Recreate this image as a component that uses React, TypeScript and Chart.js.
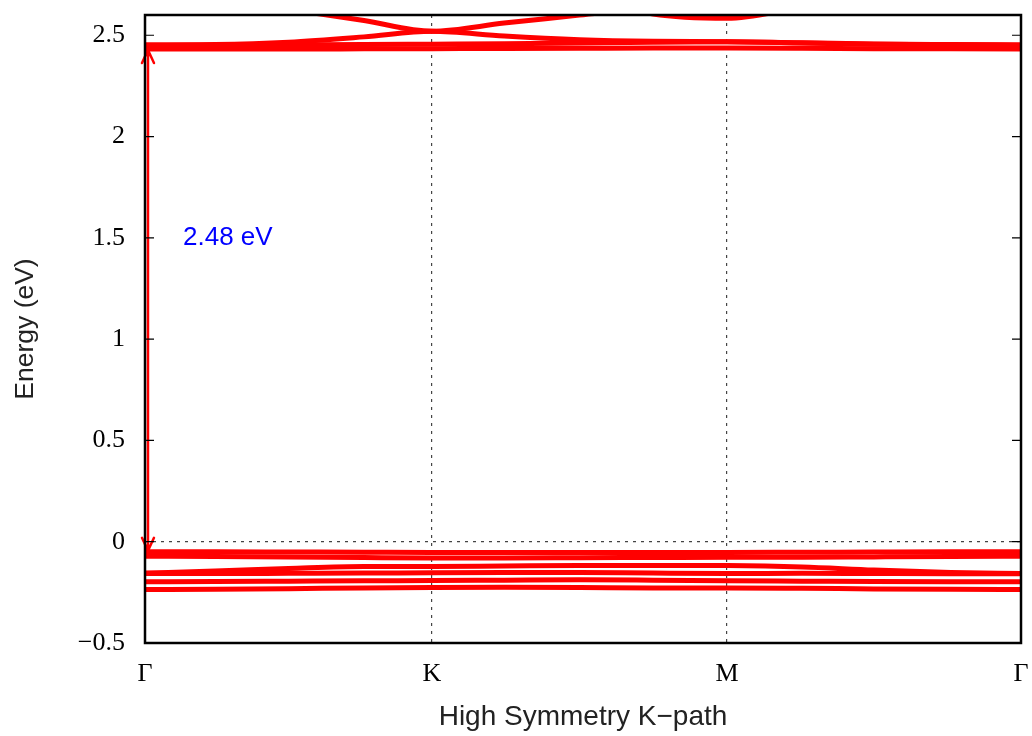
import { useEffect, useRef } from "react";
import { Chart, registerables } from "chart.js";

Chart.register(...registerables);

// High-symmetry points along the path (fractional path length)
const K_POS = 0.3276;
const M_POS = 0.6644;
const symPositions = [0, K_POS, M_POS, 1];
const symLabels = ["Γ", "K", "M", "Γ"];
const energyTicks = [-0.5, 0, 0.5, 1, 1.5, 2, 2.5];

// k sampling shared by every band
const kPath = [0, 0.08, 0.164, 0.25, K_POS, 0.41, 0.496, 0.58, M_POS, 0.75, 0.832, 0.92, 1.0];

// Valence bands (eV)
const valence1 = [-0.050, -0.050, -0.051, -0.052, -0.053, -0.053, -0.053, -0.053, -0.053, -0.052, -0.051, -0.050, -0.050];
const valence2 = [-0.072, -0.073, -0.075, -0.078, -0.080, -0.080, -0.079, -0.078, -0.077, -0.077, -0.075, -0.073, -0.072];
const valence3 = [-0.155, -0.145, -0.132, -0.122, -0.122, -0.120, -0.118, -0.117, -0.118, -0.125, -0.140, -0.152, -0.157];
const valence4 = [-0.157, -0.157, -0.156, -0.155, -0.153, -0.152, -0.152, -0.155, -0.157, -0.156, -0.157, -0.158, -0.158];
const valence5 = [-0.198, -0.197, -0.195, -0.193, -0.192, -0.190, -0.188, -0.190, -0.193, -0.195, -0.197, -0.198, -0.198];
const valence6 = [-0.236, -0.235, -0.232, -0.228, -0.226, -0.225, -0.226, -0.228, -0.228, -0.230, -0.233, -0.235, -0.236];

// Conduction bands (eV); null where the band lies far above the window
const conduction1 = [2.432, 2.432, 2.432, 2.433, 2.434, 2.435, 2.436, 2.437, 2.437, 2.436, 2.434, 2.433, 2.432];
const conduction2 = [2.452, 2.452, 2.453, 2.454, 2.456, 2.458, 2.462, 2.466, 2.468, 2.463, 2.457, 2.454, 2.452];
const conduction3 = [2.452, 2.454, 2.466, 2.492, 2.520, 2.496, 2.478, 2.470, 2.468, 2.462, 2.456, 2.453, 2.452];
const conduction4 = [null, null, 2.628, 2.573, 2.520, 2.560, 2.600, 2.640, 2.690, null, null, null, null];
const conduction5 = [null, null, null, null, null, null, 2.700, 2.605, 2.584, 2.640, 2.720, null, null];

const valenceBands = [valence1, valence2, valence3, valence4, valence5, valence6];
const conductionBands = [conduction1, conduction2, conduction3, conduction4, conduction5];

const vbm = Math.max(...valenceBands.flat());
const cbm = Math.min(...(conductionBands.flat().filter((v) => v !== null) as number[]));
const gapLabel = `${(cbm - vbm).toFixed(2)} eV`;
const ARROW_K = 0.0034;
const LABEL_K = 0.0434;
const LABEL_E = 1.5;

const BAND_COLOR = "#ff0000";

function toPoints(values: (number | null)[]) {
  return kPath.map((k, i) => ({ x: k, y: values[i] }));
}

// Vertical double-headed arrow across the gap plus its label
const gapPlugin = {
  id: "gapArrow",
  afterDatasetsDraw(chart: any) {
    const { ctx, scales } = chart;
    const x = scales.x.getPixelForValue(ARROW_K);
    const yTop = scales.y.getPixelForValue(cbm);
    const yBot = scales.y.getPixelForValue(vbm);
    ctx.save();
    ctx.strokeStyle = BAND_COLOR;
    ctx.lineWidth = 2.5;
    ctx.lineCap = "round";
    ctx.beginPath();
    ctx.moveTo(x, yTop + 1);
    ctx.lineTo(x, yBot - 1);
    // heads
    ctx.moveTo(x - 6, yTop + 14);
    ctx.lineTo(x, yTop + 1);
    ctx.lineTo(x + 6, yTop + 14);
    ctx.moveTo(x - 6, yBot - 14);
    ctx.lineTo(x, yBot - 1);
    ctx.lineTo(x + 6, yBot - 14);
    ctx.stroke();

    ctx.fillStyle = "#0000ff";
    ctx.font = "26px 'Liberation Sans', sans-serif";
    ctx.textAlign = "left";
    ctx.textBaseline = "middle";
    ctx.fillText(gapLabel, scales.x.getPixelForValue(LABEL_K), scales.y.getPixelForValue(LABEL_E));
    ctx.restore();
  },
};

// Plot frame with inward ticks on both vertical sides
const framePlugin = {
  id: "frame",
  afterDatasetsDraw(chart: any) {
    const { ctx, chartArea: a, scales } = chart;
    ctx.save();
    ctx.strokeStyle = "#000";
    ctx.lineWidth = 1.2;
    ctx.beginPath();
    for (const v of energyTicks) {
      const py = scales.y.getPixelForValue(v);
      ctx.moveTo(a.left, py);
      ctx.lineTo(a.left + 9, py);
      ctx.moveTo(a.right, py);
      ctx.lineTo(a.right - 9, py);
    }
    ctx.stroke();
    ctx.lineWidth = 2.5;
    ctx.strokeRect(a.left, a.top, a.right - a.left, a.bottom - a.top);
    ctx.restore();
  },
};

export default function App() {
  const canvasRef = useRef<HTMLCanvasElement | null>(null);

  useEffect(() => {
    if (!canvasRef.current) return;
    const bands = [...valenceBands, ...conductionBands];
    const chart = new Chart(canvasRef.current, {
      type: "line",
      data: {
        datasets: bands.map((b) => ({
          data: toPoints(b),
          borderColor: BAND_COLOR,
          borderWidth: 5,
          pointRadius: 0,
          fill: false,
          cubicInterpolationMode: "monotone" as const,
          clip: 0,
          spanGaps: false,
        })),
      },
      options: {
        responsive: false,
        animation: false,
        layout: { padding: { top: 15, right: 11, left: 0, bottom: 0 } },
        plugins: { legend: { display: false }, tooltip: { enabled: false } },
        scales: {
          x: {
            type: "linear",
            min: 0,
            max: 1,
            afterBuildTicks: (s: any) => {
              s.ticks = symPositions.map((v) => ({ value: v }));
            },
            afterFit: (s: any) => {
              s.height = 93;
              s.paddingLeft = 0;
              s.paddingRight = 0;
            },
            ticks: {
              autoSkip: false,
              maxRotation: 0,
              padding: 18,
              color: "#000",
              font: { family: "'Liberation Serif', serif", size: 26, lineHeight: 1 },
              callback: (_v: any, i: number) => symLabels[i],
            },
            grid: {
              drawTicks: false,
              lineWidth: 1.2,
              color: (c: any) =>
                c.tick && (c.tick.value === K_POS || c.tick.value === M_POS) ? "#444" : "rgba(0,0,0,0)",
            },
            border: { display: false, dash: [3, 5] },
            title: {
              display: true,
              text: "High Symmetry K−path",
              color: "#222",
              font: { family: "'Liberation Sans', sans-serif", size: 28 },
              padding: { top: 0, bottom: 2 },
            },
          },
          y: {
            type: "linear",
            min: -0.5,
            max: 2.6,
            afterBuildTicks: (s: any) => {
              s.ticks = energyTicks.map((v) => ({ value: v }));
            },
            afterFit: (s: any) => {
              s.width = 145;
              s.paddingTop = 0;
              s.paddingBottom = 0;
            },
            ticks: {
              padding: 20,
              color: "#000",
              font: { family: "'Liberation Serif', serif", size: 26, lineHeight: 1 },
              callback: (v: any) => (v < 0 ? "−" + Math.abs(v) : String(v)),
            },
            grid: {
              drawTicks: false,
              lineWidth: 1.2,
              color: (c: any) => (c.tick && c.tick.value === 0 ? "#444" : "rgba(0,0,0,0)"),
            },
            border: { display: false, dash: [3, 5] },
            title: {
              display: true,
              text: "Energy (eV)",
              color: "#222",
              font: { family: "'Liberation Sans', sans-serif", size: 26.5 },
              padding: { top: 10, bottom: 0 },
            },
          },
        },
      },
      plugins: [gapPlugin, framePlugin],
    });
    return () => chart.destroy();
  }, []);

  return (
    <div style={{ position: "absolute", left: 0, top: 0, width: 1032, height: 736 }}>
      <canvas ref={canvasRef} width={1032} height={736} />
    </div>
  );
}
